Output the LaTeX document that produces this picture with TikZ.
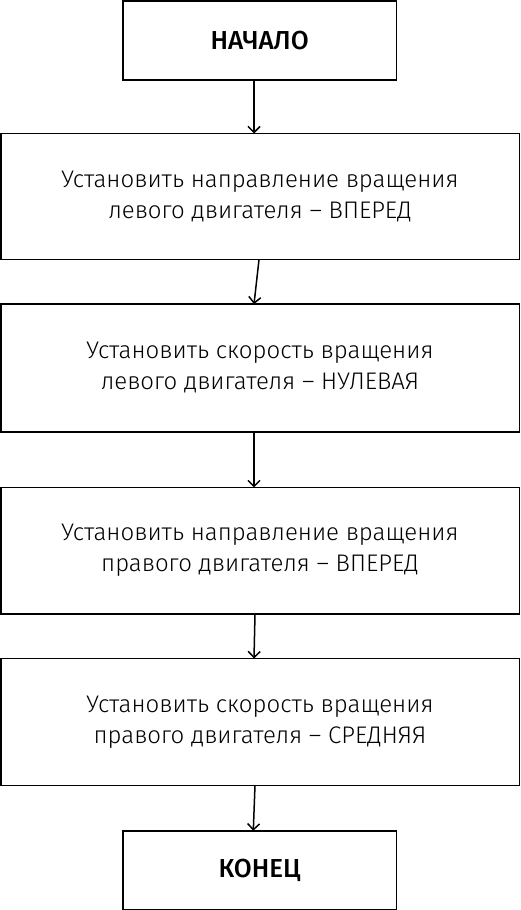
\documentclass[tikz,border=0pt]{standalone}
\usepackage{fontspec}
\setmainfont{Fira Sans Light}
\newfontfamily\medfont{Fira Sans Medium}
\usetikzlibrary{arrows.meta}
\tikzset{
  box/.style={draw=black, line width=1.5pt, inner sep=0pt, outer sep=0pt, align=center,
    font=\fontsize{24}{31}\selectfont},
  endbox/.style={box, minimum width=273.5pt, font=\fontsize{26}{30}\selectfont\medfont},
  stepbox/.style={box, minimum width=518.5pt},
  arr/.style={line width=1.5pt, -{Straight Barb[length=6pt,width=12pt,line width=1.5pt]}}
}
\begin{document}
\begin{tikzpicture}[x=1pt,y=-1pt]
\useasboundingbox (0,0) rectangle (520,910);
\fill[white] (0,0) rectangle (520,910);
\node[endbox, minimum height=79pt] (start) at (259.7,40.6) {НАЧАЛО};
\node[stepbox, minimum height=126.2pt] (s1) at (260,196.6) {Установить направление вращения\\левого двигателя – ВПЕРЕД};
\node[stepbox, minimum height=127.8pt] (s2) at (260,368) {Установить скорость вращения\\левого двигателя – НУЛЕВАЯ};
\node[stepbox, minimum height=126.5pt] (s3) at (260,550.7) {Установить направление вращения\\правого двигателя – ВПЕРЕД};
\node[stepbox, minimum height=126.8pt] (s4) at (260,721.9) {Установить скорость вращения\\правого двигателя – СРЕДНЯЯ};
\node[endbox, minimum height=78.5pt] (end) at (259.7,870) {КОНЕЦ};
\draw[arr] (start.south -| 254,0) -- (s1.north -| 254,0);
\draw[arr] (s1.south -| 259,0) -- (s2.north -| 254,0);
\draw[arr] (s2.south -| 254,0) -- (s3.north -| 254,0);
\draw[arr] (s3.south -| 255,0) -- (s4.north -| 254,0);
\draw[arr] (s4.south -| 255,0) -- (end.north -| 253.3,0);
\end{tikzpicture}
\end{document}
